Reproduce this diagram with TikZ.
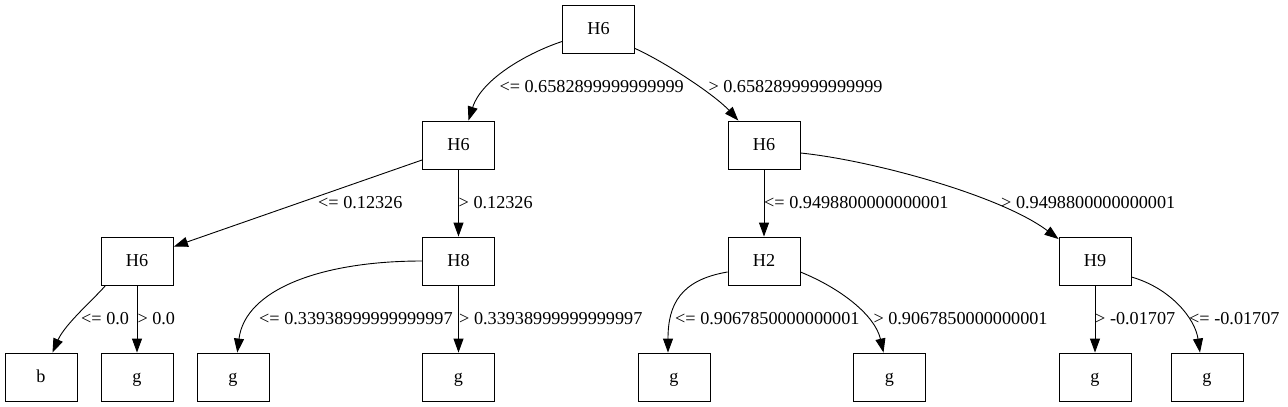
\documentclass[tikz,border=0pt]{standalone}
\usepackage{fontspec}
\setmainfont{Liberation Serif}
\usetikzlibrary{arrows.meta,calc}
\tikzset{
  box/.style={draw, line width=0.9pt, minimum width=72pt, minimum height=48pt, inner sep=0pt, text height=14pt, text depth=3pt, align=center},
  elabel/.style={anchor=base west, inner sep=0pt},
  edge/.style={line width=0.9pt, -{Triangle[length=14pt,width=10pt]}},
}
\begin{document}
\begin{tikzpicture}[x=1pt,y=-1pt, every node/.style={font=\fontsize{18.2}{22}\selectfont}]
\useasboundingbox[fill=white] (0,0) rectangle (1288,407);
% nodes
\node[box] (root) at (598.5,29) {H6};
\node[box] (L1a) at (458.5,145) {H6};
\node[box] (L1b) at (764,145) {H6};
\node[box] (L2a) at (137,261) {H6};
\node[box] (L2b) at (458.5,261) {H8};
\node[box] (L2c) at (764,261) {H2};
\node[box] (L2d) at (1095,261) {H9};
\node[box] (b0) at (41,377) {b};
\node[box] (g1) at (137,377) {g};
\node[box] (g2) at (233,377) {g};
\node[box] (g3) at (458.5,377) {g};
\node[box] (g4) at (674,377) {g};
\node[box] (g5) at (889.5,377) {g};
\node[box] (g6) at (1095,377) {g};
\node[box] (g7) at (1207,377) {g};
% edges
\draw[edge] ($(root.west)+(0,12.5)$) .. controls (530,52) and (482,78) .. ($(L1a.north)+(10,0)$);
\draw[edge] ($(root.south east)+(0,-5)$) .. controls (665,62) and (715,95) .. ($(L1b.north)+(-25.7,0)$);
\draw[edge] ($(L1a.west)+(0,15)$) -- ($(L2a.north east)+(0.5,10)$);
\draw[edge] (L1a.south) -- (L2b.north);
\draw[edge] (L1b.south) -- (L2c.north);
\draw[edge] ($(L1b.east)+(0,8)$) .. controls (870,160) and (1000,195) .. ($(L2d.north west)+(0,2.5)$);
\draw[edge] ($(L2a.south west)+(5,0)$) .. controls (94,299) and (65,324) .. ($(b0.north)+(11.5,0)$);
\draw[edge] (L2a.south) -- (g1.north);
\draw[edge] (L2b.west) .. controls (320,261) and (245,290) .. ($(g2.north)+(4.3,0)$);
\draw[edge] (L2b.south) -- (g3.north);
\draw[edge] ($(L2c.west)+(0,11)$) .. controls (680,280) and (668,305) .. ($(g4.north)+(-6,0)$);
\draw[edge] ($(L2c.east)+(0,11)$) .. controls (840,288) and (875,315) .. ($(g5.north)+(-6,0)$);
\draw[edge] (L2d.south) -- (g6.north);
\draw[edge] ($(L2d.east)+(0,16)$) .. controls (1170,288) and (1195,318) .. ($(g7.north)+(-7,0)$);
% labels
\node[elabel] (t1) at (499.3,92.5) {<= 0.6582899999999999};
\node[elabel] (t2) at (708.3,92.5) {> 0.6582899999999999};
\node[elabel] (t3) at (318,208.5) {<= 0.12326};
\node[elabel] (t4) at (458.5,208.5) {> 0.12326};
\node[elabel] (t5) at (764,208.5) {<= 0.9498800000000001};
\node[elabel] (t6) at (1001,208.5) {> 0.9498800000000001};
\node[elabel] (t7) at (81,324.5) {<= 0.0};
\node[elabel] (t8) at (137.3,324.5) {> 0.0};
\node[elabel] (t9) at (259,324.5) {<= 0.33938999999999997};
\node[elabel] (t10) at (459,324.5) {> 0.33938999999999997};
\node[elabel] (t11) at (675,324.5) {<= 0.9067850000000001};
\node[elabel] (t12) at (873.3,324.5) {> 0.9067850000000001};
\node[elabel] (t13) at (1095,324.5) {> -0.01707};
\node[elabel] (t14) at (1189,324.5) {<= -0.01707};
\end{tikzpicture}
\end{document}
